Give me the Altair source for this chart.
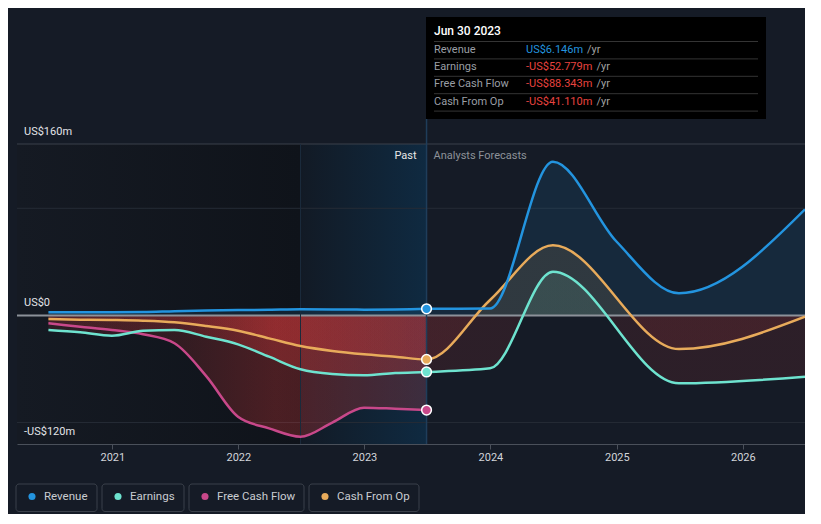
import altair as alt
import pandas as pd

# ---------------- data ----------------
past_dates = ["2020-06-30", "2020-09-30", "2020-12-31", "2021-03-31", "2021-06-30",
              "2021-09-30", "2021-12-31", "2022-03-31", "2022-06-30", "2022-09-30",
              "2022-12-31", "2023-03-31", "2023-06-30"]
revenue_forecast_dates = ["2023-12-31", "2024-06-30", "2024-12-31", "2025-06-30", "2026-06-30"]
forecast_dates = ["2023-12-31", "2024-06-30", "2025-06-30", "2026-06-30"]

revenue_past = [3.0, 3.0, 3.0, 3.1, 3.9, 4.5, 5.0, 5.3, 5.7, 5.6, 5.4, 5.6, 6.146]
revenue_forecast = [6.5, 143.5, 69.0, 20.6, 99.0]
earnings_past = [-13.6, -15.8, -18.9, -14.3, -13.6, -19.9, -27.0, -38.5, -50.3, -54.7,
                 -55.9, -53.8, -52.779]
earnings_forecast = [-49.4, 40.8, -63.4, -57.2]
fcf_past = [-7.4, -10.5, -13.6, -17.6, -26.0, -56.6, -94.5, -105.4, -113.2, -100.0,
            -86.1, -87.1, -88.343]
cfo_past = [-3.4, -4.0, -4.3, -4.9, -6.4, -9.9, -14.3, -21.4, -28.6, -33.2, -36.3,
            -38.5, -41.11]
cfo_forecast = [14.4, 65.4, -31.4, -1.2]

series_names = ["Revenue", "Earnings", "Free Cash Flow", "Cash From Op"]
series_colors = ["#2394df", "#6ee3cf", "#c8488a", "#e8ab5b"]

y_label_values = [160, 0, -120]
y_label_texts = ["US$160m", "US$0", "-US$120m"]
grid_values = [100, -100]
top_value = 160
year_ticks = ["2021-01-01", "2022-01-01", "2023-01-01", "2024-01-01", "2025-01-01", "2026-01-01"]
x_domain = ["2020-03-31", "2026-06-30"]
highlight_start = "2022-06-30"
report_date = "2023-06-30"

tooltip_title = "Jun 30 2023"
tooltip_values = ["US$6.146m", "-US$52.779m", "-US$88.343m", "-US$41.110m"]
tooltip_unit = "/yr"

# ---------------- helpers ----------------
BG = "#151b26"
RED = "#d63a3a"
FONT = "Roboto"

past_map = dict(zip(series_names, [revenue_past, earnings_past, fcf_past, cfo_past]))
fc_map = dict(zip(series_names, [(revenue_forecast_dates, revenue_forecast),
                                 (forecast_dates, earnings_forecast),
                                 ([], []),
                                 (forecast_dates, cfo_forecast)]))
color_map = dict(zip(series_names, series_colors))


def ms(d):
    return int(pd.Timestamp(d).value // 10**6)


x_scale = alt.Scale(type="utc", domain=[ms(x_domain[0]), ms(x_domain[1])])
x_axis = alt.Axis(values=[ms(t) for t in year_ticks], format="%Y", grid=False,
                  domainColor="#4a505a", tickColor="#4a505a", tickSize=5,
                  labelColor="#d2d5da", labelFontSize=11, labelFont=FONT,
                  labelPadding=2, labelFlush=False)
y_scale = alt.Scale(domain=[-120, 160], nice=False, zero=False)


def X(field="date"):
    return alt.X(f"{field}:T", scale=x_scale, axis=x_axis, title=None)


def Y(field="value"):
    return alt.Y(f"{field}:Q", scale=y_scale, axis=None)


def series_frame(name, include_forecast=True):
    dates = list(past_dates)
    vals = list(past_map[name])
    if include_forecast:
        fd, fv = fc_map[name]
        dates += fd
        vals += fv
    return pd.DataFrame({"series": name, "date": dates, "value": vals})


color_enc = alt.Color("series:N", scale=alt.Scale(domain=series_names, range=series_colors),
                      legend=None)

layers = []

# background regions
dark_df = pd.DataFrame({"date": [x_domain[0]], "end": [highlight_start]})
layers.append(alt.Chart(dark_df).mark_rect(
    fill={"gradient": "linear", "x1": 0, "x2": 1, "y1": 0, "y2": 0,
          "stops": [{"offset": 0, "color": "#151a23"}, {"offset": 1, "color": "#0f131a"}]}
).encode(x=X(), x2="end:T", y=alt.value(0), y2=alt.value(300)))

hl_df = pd.DataFrame({"date": [highlight_start], "end": [report_date]})
layers.append(alt.Chart(hl_df).mark_rect(
    fill={"gradient": "linear", "x1": 0, "x2": 1, "y1": 0, "y2": 0,
          "stops": [{"offset": 0, "color": "#121a25"}, {"offset": 1, "color": "#0f2a41"}]}
).encode(x=X(), x2="end:T", y=alt.value(0), y2=alt.value(300)))

# gridlines
layers.append(alt.Chart(pd.DataFrame({"value": [top_value]})).mark_rule(
    color="#3a404a", strokeWidth=1).encode(y=Y()))
layers.append(alt.Chart(pd.DataFrame({"value": grid_values})).mark_rule(
    color="#262c36", strokeWidth=1).encode(y=Y()))

# area fills (whole series, positive in series colour, negative in red)
for name in series_names:
    df = series_frame(name)
    vmax = max(max(df["value"]), 0)
    vmin = min(min(df["value"]), 0)
    if vmin >= 0:
        fill = color_map[name]
    elif vmax <= 0:
        fill = RED
    else:
        z = vmax / (vmax - vmin)
        fill = {"gradient": "linear", "x1": 0, "x2": 0, "y1": 0, "y2": 1,
                "stops": [{"offset": 0, "color": color_map[name]},
                          {"offset": z, "color": color_map[name]},
                          {"offset": z, "color": RED},
                          {"offset": 1, "color": RED}]}
    layers.append(alt.Chart(df).mark_area(interpolate="monotone", fill=fill,
                                          fillOpacity=0.12).encode(
        x=X(), y=Y(), y2=alt.datum(0)))

# stronger red shading of the past negative areas
past_grad = {"gradient": "linear", "x1": 0, "x2": 1, "y1": 0, "y2": 0,
             "stops": [{"offset": 0, "color": "rgba(214,58,58,0.0)"},
                       {"offset": 0.35, "color": "rgba(214,58,58,0.06)"},
                       {"offset": 0.6, "color": "rgba(214,58,58,0.20)"},
                       {"offset": 0.68, "color": "rgba(214,58,58,0.19)"},
                       {"offset": 1, "color": "rgba(214,58,58,0.12)"}]}
for name in ["Free Cash Flow", "Earnings", "Cash From Op"]:
    df = series_frame(name, include_forecast=False)
    layers.append(alt.Chart(df).mark_area(interpolate="monotone", fill=past_grad).encode(
        x=X(), y=Y(), y2=alt.datum(0)))

# zero line
layers.append(alt.Chart(pd.DataFrame({"value": [0]})).mark_rule(
    color="#8c9199", strokeWidth=2).encode(y=Y()))

# vertical markers
layers.append(alt.Chart(pd.DataFrame({"date": [highlight_start]})).mark_rule(
    color="#1a2a3b", strokeWidth=1).encode(x=X(), y=alt.value(0), y2=alt.value(300)))
layers.append(alt.Chart(pd.DataFrame({"date": [report_date]})).mark_rule(
    color="#1f3d5a", strokeWidth=1.5).encode(x=X(), y=alt.value(-25), y2=alt.value(300)))

# lines
all_df = pd.concat([series_frame(n) for n in ["Free Cash Flow", "Cash From Op", "Earnings", "Revenue"]])
layers.append(alt.Chart(all_df).mark_line(interpolate="monotone", strokeWidth=2.5).encode(
    x=X(), y=Y(), color=color_enc, detail="series:N"))

# report-date dots
dot_df = pd.DataFrame({"series": series_names, "date": report_date,
                       "value": [past_map[n][-1] for n in series_names]})
layers.append(alt.Chart(dot_df).mark_circle(size=95, opacity=1, stroke="white",
                                            strokeWidth=1.5).encode(
    x=X(), y=Y(), color=color_enc))

# Past / Analysts Forecasts labels
lbl_df = pd.DataFrame({"date": [report_date]})
layers.append(alt.Chart(lbl_df).mark_text(text="Past", align="right", baseline="middle",
                                          dx=-10, font=FONT, fontSize=11, color="#e8e8e8").encode(
    x=X(), y=alt.value(12)))
layers.append(alt.Chart(lbl_df).mark_text(text="Analysts Forecasts", align="left",
                                          baseline="middle", dx=7, font=FONT, fontSize=11,
                                          color="#8d9299").encode(
    x=X(), y=alt.value(12)))

# y labels
ylab_df = pd.DataFrame({"value": y_label_values, "label": y_label_texts})
layers.append(alt.Chart(ylab_df).mark_text(align="left", baseline="middle", dy=-12,
                                           font=FONT, fontSize=11, color="#e2e4e8").encode(
    x=alt.value(7), y=Y(), text="label:N"))

# tooltip box
one = pd.DataFrame({"a": [0]})
layers.append(alt.Chart(one).mark_rect(fill="#000000").encode(
    x=alt.value(409), x2=alt.value(749), y=alt.value(-127), y2=alt.value(-25)))
for i in range(5):
    layers.append(alt.Chart(one).mark_rule(color="#343434", strokeWidth=1).encode(
        x=alt.value(417), x2=alt.value(741), y=alt.value(-102.5 + i * 17.4)))
layers.append(alt.Chart(one).mark_text(text=tooltip_title, align="left", baseline="middle",
                                       font=FONT, fontSize=12, fontWeight=500,
                                       color="#ffffff").encode(
    x=alt.value(417), y=alt.value(-113)))
for i, (name, val) in enumerate(zip(series_names, tooltip_values)):
    yy = -94.5 + i * 17.4
    vcol = "#2394df" if i == 0 else "#e8433f"
    layers.append(alt.Chart(one).mark_text(text=name, align="left", baseline="middle",
                                           font=FONT, fontSize=11, color="#9a9ea5").encode(
        x=alt.value(417), y=alt.value(yy)))
    layers.append(alt.Chart(one).mark_text(text=val, align="left", baseline="middle",
                                           font=FONT, fontSize=11, color=vcol).encode(
        x=alt.value(509), y=alt.value(yy)))
    layers.append(alt.Chart(one).mark_text(text=tooltip_unit, align="left", baseline="middle",
                                           font=FONT, fontSize=11, color="#a0a0a0").encode(
        x=alt.value(570 if i == 0 else 579.5), y=alt.value(yy)))

# custom legend
legend_boxes = [(-1, 80), (85, 167), (172, 287), (292, 402)]
for (x0, x1), name, col in zip(legend_boxes, series_names, series_colors):
    layers.append(alt.Chart(one).mark_rect(fill=BG, stroke="#3b414b", strokeWidth=1,
                                           cornerRadius=3).encode(
        x=alt.value(x0), x2=alt.value(x1), y=alt.value(340), y2=alt.value(367.5)))
    layers.append(alt.Chart(one).mark_circle(size=50, opacity=1, color=col).encode(
        x=alt.value(x0 + 16), y=alt.value(352.5)))
    layers.append(alt.Chart(one).mark_text(text=name, align="left", baseline="middle",
                                           font=FONT, fontSize=11.5, color="#c9ccd1").encode(
        x=alt.value(x0 + 28), y=alt.value(352.5)))

chart = alt.layer(*layers).properties(
    width=788, height=300,
    autosize=alt.AutoSizeParams(type="none"),
    padding={"left": 9, "top": 136, "right": 0, "bottom": 70},
    usermeta={"embedOptions": {"defaultStyle": "body{background:#151b26;}"}},
).configure(background=BG, font=FONT).configure_view(strokeWidth=0)

chart.save("out.html", embed_options={"renderer": "svg", "actions": False})
